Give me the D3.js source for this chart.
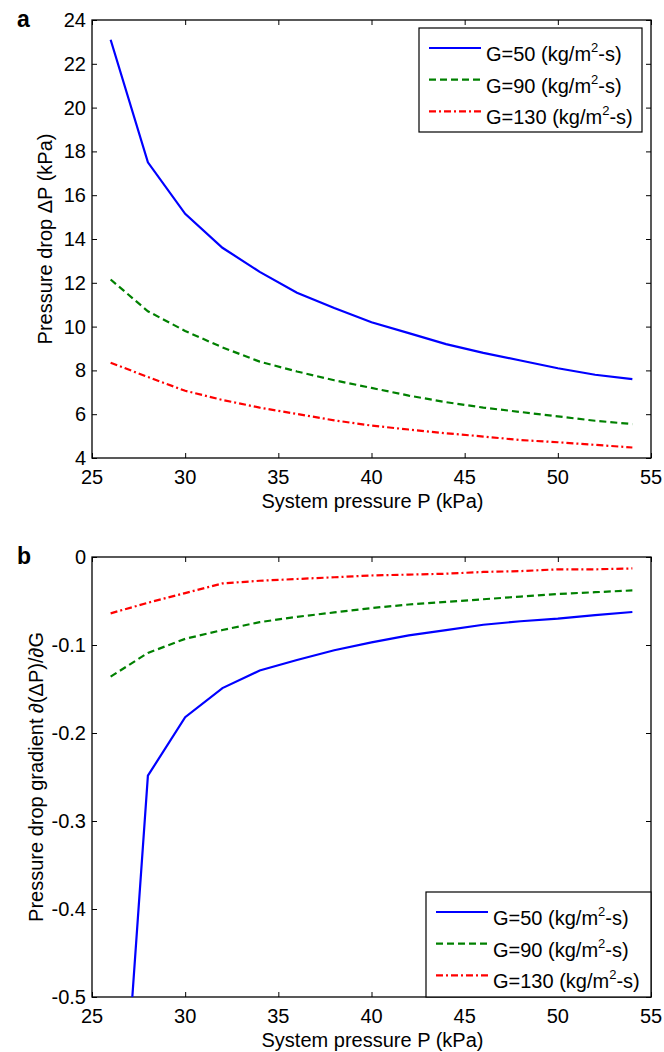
<!DOCTYPE html>
<html>
<head>
<meta charset="utf-8">
<script src="https://cdn.jsdelivr.net/npm/d3@7"></script>
<style>
  body { margin: 0; background: #fff; }
  svg text { font-family: "Liberation Sans", Arial, sans-serif; fill: #000; }
</style>
</head>
<body>
<svg id="chart" width="664" height="1052"></svg>
<script>
// system pressure (kPa)
let pressure = [26, 28, 30, 32, 34, 36, 38, 40, 42, 44, 46, 48, 50, 52, 54]

// panel a: pressure drop (kPa)
let dropG50 = [23.1, 17.5, 15.15, 13.6, 12.5, 11.55, 10.85, 10.2, 9.7, 9.2, 8.8, 8.45, 8.1, 7.8, 7.6]
let dropG90 = [12.15, 10.7, 9.8, 9.05, 8.4, 7.95, 7.55, 7.2, 6.85, 6.55, 6.3, 6.1, 5.9, 5.7, 5.55]
let dropG130 = [8.35, 7.7, 7.07, 6.65, 6.3, 6.01, 5.72, 5.48, 5.3, 5.13, 4.98, 4.82, 4.72, 4.6, 4.48]

// panel b: pressure drop gradient
let gradG50 = [-0.85, -0.2485, -0.182, -0.149, -0.129, -0.117, -0.106, -0.097, -0.089, -0.083, -0.077, -0.073, -0.07, -0.066, -0.0625]
let gradG90 = [-0.136, -0.109, -0.093, -0.083, -0.074, -0.068, -0.063, -0.058, -0.054, -0.051, -0.048, -0.045, -0.042, -0.04, -0.038]
let gradG130 = [-0.064, -0.052, -0.041, -0.03, -0.027, -0.025, -0.023, -0.021, -0.02, -0.019, -0.017, -0.016, -0.014, -0.014, -0.013]

let xTicks = [25, 30, 35, 40, 45, 50, 55]
let yTicksA = [4, 6, 8, 10, 12, 14, 16, 18, 20, 22, 24]
let yTicksB = [0, -0.1, -0.2, -0.3, -0.4, -0.5]

let seriesNames = ['50', '90', '130']
let seriesColors = ['#0000ff', '#008000', '#ff0000']
let seriesDash = [null, '7,4', '7,3,2,3']

let svg = d3.select('#chart')

let left = 92, right = 651

function drawPanel(opts){
	let xScale = d3.scaleLinear().domain([25, 55]).range([left, right])
	let yScale = d3.scaleLinear().domain(opts.yDomain).range([opts.bottom, opts.top])
	let g = svg.append('g')

	g.append('clipPath').attr('id', 'clip' + opts.id)
		.append('rect')
		.attr('x', left).attr('y', opts.top)
		.attr('width', right - left).attr('height', opts.bottom - opts.top)

	// axes, ticks inside on all four sides
	let fmt = opts.fmt
	g.append('g')
		.attr('transform', `translate(0,${opts.bottom})`)
		.call(d3.axisTop(xScale).tickValues(xTicks).tickSize(5).tickFormat(''))
	g.append('g')
		.attr('transform', `translate(0,${opts.top})`)
		.call(d3.axisBottom(xScale).tickValues(xTicks).tickSize(5).tickFormat(''))
	g.append('g')
		.attr('transform', `translate(${left},0)`)
		.call(d3.axisRight(yScale).tickValues(opts.yTicks).tickSize(5).tickFormat(''))
	g.append('g')
		.attr('transform', `translate(${right},0)`)
		.call(d3.axisLeft(yScale).tickValues(opts.yTicks).tickSize(5).tickFormat(''))
	g.selectAll('.domain').remove()
	g.selectAll('.tick line').attr('stroke', '#000').attr('stroke-width', 1)

	g.append('rect')
		.attr('x', left).attr('y', opts.top)
		.attr('width', right - left).attr('height', opts.bottom - opts.top)
		.attr('fill', 'none').attr('stroke', '#000').attr('stroke-width', 1.3)

	// tick labels
	g.selectAll('.xl').data(xTicks).enter().append('text')
		.attr('x', d => xScale(d))
		.attr('y', opts.bottom + 26)
		.attr('text-anchor', 'middle')
		.style('font-size', '20px')
		.text(d => d)
	g.selectAll('.yl').data(opts.yTicks).enter().append('text')
		.attr('x', left - 6)
		.attr('y', d => yScale(d) + 7)
		.attr('text-anchor', 'end')
		.style('font-size', '20px')
		.text(d => fmt(d))

	// axis titles
	g.append('text')
		.attr('x', (left + right) / 2 + 1)
		.attr('y', opts.bottom + 50)
		.attr('text-anchor', 'middle')
		.style('font-size', '20px')
		.text('System pressure P (kPa)')
	g.append('text')
		.attr('transform', `translate(${opts.titleX},${(opts.top + opts.bottom) / 2}) rotate(-90)`)
		.attr('text-anchor', 'middle')
		.style('font-size', '20px')
		.text(opts.yTitle)

	// panel letter
	g.append('text')
		.attr('x', 17).attr('y', opts.top + 7)
		.style('font-size', '23px').style('font-weight', 'bold')
		.text(opts.id)

	// lines
	let lineGen = d3.line()
		.x((d, i) => xScale(pressure[i]))
		.y(d => yScale(d))

	let plot = g.append('g').attr('clip-path', `url(#clip${opts.id})`)
	opts.series.forEach((s, i) => {
		plot.append('path')
			.datum(s)
			.attr('d', lineGen)
			.attr('fill', 'none')
			.attr('stroke', seriesColors[i])
			.attr('stroke-width', 2.2)
			.attr('stroke-dasharray', seriesDash[i])
	})

	// legend
	let lg = g.append('g').attr('transform', `translate(${opts.leg[0]},${opts.leg[1]})`)
	lg.append('rect')
		.attr('width', opts.leg[2]).attr('height', opts.leg[3])
		.attr('fill', '#fff').attr('stroke', '#000').attr('stroke-width', 1.2)
	seriesNames.forEach((n, i) => {
		let cy = 26 + i * 31.7
		lg.append('line')
			.attr('x1', 10).attr('x2', 62)
			.attr('y1', cy - 6).attr('y2', cy - 6)
			.attr('stroke', seriesColors[i])
			.attr('stroke-width', 2.2)
			.attr('stroke-dasharray', seriesDash[i])
		let t = lg.append('text')
			.attr('x', 67).attr('y', cy + 7)
			.style('font-size', '20px')
		t.append('tspan').text(`G=${n} (kg/m`)
		t.append('tspan').attr('dy', -9).style('font-size', '13px').text('2')
		t.append('tspan').attr('dy', 9).text('-s)')
	})
}

drawPanel({
	id: 'a', top: 20, bottom: 458, yDomain: [4, 24], yTicks: yTicksA,
	fmt: d => d, yTitle: 'Pressure drop ΔP (kPa)', titleX: 52,
	series: [dropG50, dropG90, dropG130],
	leg: [419, 28, 223, 104]
})

drawPanel({
	id: 'b', top: 557, bottom: 997, yDomain: [-0.5, 0], yTicks: yTicksB,
	fmt: d => d === 0 ? '0' : d3.format('.1f')(d).replace('−', '-'),
	yTitle: 'Pressure drop gradient ∂(ΔP)/∂G', titleX: 43,
	series: [gradG50, gradG90, gradG130],
	leg: [426, 892, 225, 105]
})
</script>
</body>
</html>
